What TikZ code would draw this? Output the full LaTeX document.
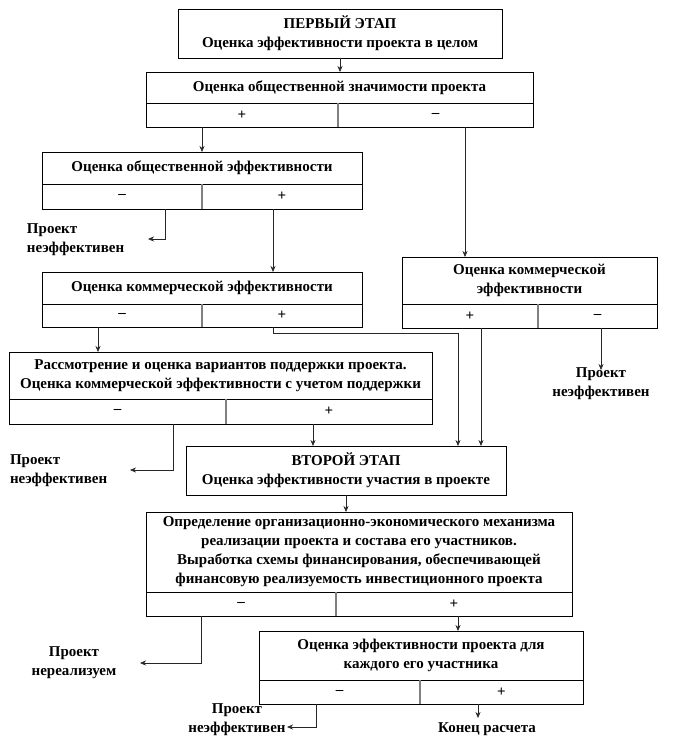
\documentclass[tikz,border=0pt]{standalone}
\usepackage{fontspec}
\setmainfont{Liberation Serif}
\usetikzlibrary{arrows.meta}
\begin{document}
\begin{tikzpicture}[x=1pt,y=-1pt,
  txt/.style={font=\fontsize{15}{19}\selectfont\bfseries},
  box/.style={txt,draw=black,line width=0.8pt,inner sep=0pt,outer sep=0pt,anchor=north west,align=center},
  lbl/.style={txt,inner sep=0pt,outer sep=0pt},
  conn/.style={line width=0.6pt,draw=black!85},
  arr/.style={conn,-{Stealth[length=6pt,width=5pt]}},
  divl/.style={draw=gray,line width=1.3pt}]
\useasboundingbox (0,0) rectangle (682,752);
% Box 1
\node[box,minimum width=324pt,minimum height=49pt] (b1) at (178,9) {ПЕРВЫЙ ЭТАП\\Оценка эффективности проекта в целом};
% Box 2
\node[box,minimum width=387pt,minimum height=31pt] (b2t) at (146,72) {Оценка общественной значимости проекта};
\node[box,minimum width=192pt,minimum height=24pt] (b2l) at (146,103) {+};
\node[box,minimum width=195pt,minimum height=24pt] (b2r) at (338,103) {–};
\draw[divl] (b2l.north east) -- (b2l.south east);
% Box 3
\node[box,minimum width=320pt,minimum height=32pt] (b3t) at (42,152) {Оценка общественной эффективности};
\node[box,minimum width=160pt,minimum height=25pt] (b3l) at (42,184) {–};
\node[box,minimum width=160pt,minimum height=25pt] (b3r) at (202,184) {+};
\draw[divl] (b3l.north east) -- (b3l.south east);
% Box 4
\node[box,minimum width=320pt,minimum height=32pt] (b4t) at (42,272) {Оценка коммерческой эффективности};
\node[box,minimum width=160pt,minimum height=23pt] (b4l) at (42,304) {–};
\node[box,minimum width=160pt,minimum height=23pt] (b4r) at (202,304) {+};
\draw[divl] (b4l.north east) -- (b4l.south east);
% Box 6
\node[box,minimum width=255pt,minimum height=47pt] (b6t) at (402,257) {Оценка коммерческой\\эффективности};
\node[box,minimum width=136pt,minimum height=24pt] (b6l) at (402,304) {+};
\node[box,minimum width=119pt,minimum height=24pt] (b6r) at (538,304) {–};
\draw[divl] (b6l.north east) -- (b6l.south east);
% Box 5
\node[box,minimum width=423pt,minimum height=47pt] (b5t) at (9,352) {Рассмотрение и оценка вариантов поддержки проекта.\\Оценка коммерческой эффективности  с учетом  поддержки};
\node[box,minimum width=217pt,minimum height=25pt] (b5l) at (9,399) {–};
\node[box,minimum width=206pt,minimum height=25pt] (b5r) at (226,399) {+};
\draw[divl] (b5l.north east) -- (b5l.south east);
% Box 7
\node[box,minimum width=320pt,minimum height=49pt] (b7) at (186,446) {ВТОРОЙ ЭТАП\\Оценка эффективности  участия в проекте};
% Box 8
\node[box,minimum width=426pt,minimum height=80pt] (b8t) at (146,512) {Определение организационно-экономического механизма\\реализации проекта и состава его участников.\\Выработка  схемы финансирования, обеспечивающей\\финансовую реализуемость  инвестиционного проекта};
\node[box,minimum width=190pt,minimum height=24pt] (b8l) at (146,592) {–};
\node[box,minimum width=236pt,minimum height=24pt] (b8r) at (336,592) {+};
\draw[divl] (b8l.north east) -- (b8l.south east);
% Box 9
\node[box,minimum width=324pt,minimum height=49pt] (b9t) at (259,631) {Оценка эффективности проекта для\\каждого  его участника};
\node[box,minimum width=161pt,minimum height=24pt] (b9l) at (259,680) {–};
\node[box,minimum width=163pt,minimum height=24pt] (b9r) at (420,680) {+};
\draw[divl] (b9l.north east) -- (b9l.south east);
% labels
\node[lbl,anchor=west,align=left] (t4) at (27,240) {Проект\\неэффективен};
\node[lbl,align=center] (t9) at (601,384) {Проект\\неэффективен};
\node[lbl,anchor=west,align=left] (t10) at (10,471) {Проект\\неэффективен};
\node[lbl,align=center] (t13) at (74,663) {Проект\\нереализуем};
\node[lbl,align=center] (t15) at (237,720) {Проект\\неэффективен};
\node[lbl,align=center] (t16) at (487,729) {Конец расчета};
% coordinates
\coordinate (k2) at (202,0);
\coordinate (k3) at (465,0);
\coordinate (k4) at (165,0);
\coordinate (e4) at (148,239);
\coordinate (k5) at (273,0);
\coordinate (k6) at (98,0);
\coordinate (k7) at (273,0);
\coordinate (m7) at (458,333);
\coordinate (k8) at (481,0);
\coordinate (k9) at (601,0);
\coordinate (k10) at (173,0);
\coordinate (e10) at (130,470);
\coordinate (k11) at (313,0);
\coordinate (k13) at (201,0);
\coordinate (e13) at (140,663);
\coordinate (k14) at (458,0);
\coordinate (k15) at (316,0);
\coordinate (e15) at (287,727);
\coordinate (k16) at (478,0);
\coordinate (e16) at (478,718);
% connectors
\draw[arr] (b1.south) -- (b1.south |- b2t.north);
\draw[arr] (b2l.south -| k2) -- (b3t.north -| k2);
\draw[arr] (b2r.south -| k3) -- (b6t.north -| k3);
\draw[arr] (b3l.south -| k4) |- (e4);
\draw[arr] (b3r.south -| k5) -- (b4t.north -| k5);
\draw[arr] (b4l.south -| k6) -- (b5t.north -| k6);
\draw[arr] (b4r.south -| k7) |- (m7) -- (m7 |- b7.north);
\draw[arr] (b6l.south -| k8) -- (b7.north -| k8);
\draw[arr] (b6r.south -| k9) -- ([yshift=-2pt]t9.north -| k9);
\draw[arr] (b5l.south -| k10) |- (e10);
\draw[arr] (b5r.south -| k11) -- (b7.north -| k11);
\draw[arr] (b7.south) -- (b7.south |- b8t.north);
\draw[arr] (b8l.south -| k13) |- (e13);
\draw[arr] (b8r.south -| k14) -- (b9t.north -| k14);
\draw[arr] (b9l.south -| k15) |- (e15);
\draw[arr] (b9r.south -| k16) -- (e16);
\end{tikzpicture}
\end{document}
